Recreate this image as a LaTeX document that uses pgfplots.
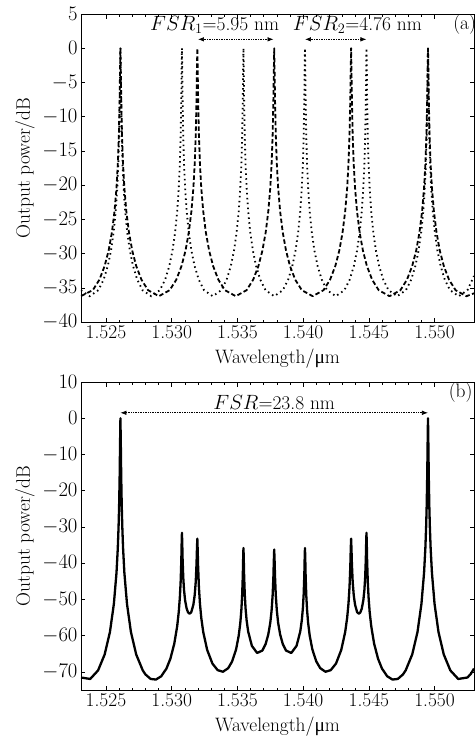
\documentclass[border=0pt]{standalone}
\usepackage{fontspec}
\usepackage{pgfplots}
\pgfplotsset{compat=1.18}
\usetikzlibrary{arrows.meta}
\newfontfamily\gr{Liberation Serif}
\newcommand\fs{\fontsize{19.5}{22}\selectfont}

\tikzset{
  fsr/.style={densely dotted, line width=0.7bp, {Latex[length=6bp,width=4.5bp]}-{Latex[length=6bp,width=4.5bp]}},
}
\pgfplotsset{
  panel/.style={
    scale only axis, width=393bp, height=308bp,
    xmin=1.5231, xmax=1.5530,
    xtick={1.525,1.53,1.535,1.54,1.545,1.55},
    xticklabels={1.525,1.530,1.535,1.540,1.545,1.550},
    minor x tick num=4,
    tick align=inside,
    major tick length=4.5bp, minor tick length=2.5bp,
    every tick/.style={black, line width=0.5bp},
    axis line style={line width=0.6bp},
    tick label style={font=\fs},
    label style={font=\fs},
    xlabel={Wavelength/{\gr μ}m},
    ylabel={Output power/dB},
    xlabel style={at={(axis description cs:0.5,-0.118)}, anchor=center},
    ylabel style={at={(axis description cs:-0.1425,0.5)}, anchor=center},
  },
}

\begin{document}
\begin{tikzpicture}
% (a) the two single rings
\begin{axis}[panel, name=top, at={(0,0)}, anchor=north west,
    ymin=-40, ymax=5, ytick={5,0,-5,...,-40}]
  % ring 1, FSR about 5.85 nm
  \addplot[black, line width=1.8bp, dash pattern=on 4.5bp off 2.5bp, line join=round] coordinates {
    (1.52310,-36.20)
    (1.52400,-35.35) (1.52450,-33.82) (1.52490,-31.81) (1.52520,-29.58) (1.52545,-26.92) (1.52565,-23.83)
    (1.52580,-20.41) (1.52590,-16.95) (1.52598,-12.66) (1.52604,-7.29) (1.52607,-3.20) (1.52610,0)
    (1.52613,-3.20) (1.52616,-7.29) (1.52622,-12.66) (1.52630,-16.95) (1.52640,-20.41) (1.52655,-23.83)
    (1.52675,-26.92) (1.52700,-29.58) (1.52730,-31.81) (1.52770,-33.82) (1.52820,-35.35) (1.529025,-36.23)
    (1.52985,-35.35) (1.53035,-33.82) (1.53075,-31.81) (1.53105,-29.58) (1.53130,-26.92) (1.53150,-23.83)
    (1.53165,-20.41) (1.53175,-16.95) (1.53183,-12.66) (1.53189,-7.29) (1.53192,-3.20) (1.53195,0)
    (1.53198,-3.20) (1.53201,-7.29) (1.53207,-12.66) (1.53215,-16.95) (1.53225,-20.41) (1.53240,-23.83)
    (1.53260,-26.92) (1.53285,-29.58) (1.53315,-31.81) (1.53355,-33.82) (1.53405,-35.35) (1.534875,-36.23)
    (1.53570,-35.35) (1.53620,-33.82) (1.53660,-31.81) (1.53690,-29.58) (1.53715,-26.92) (1.53735,-23.83)
    (1.53750,-20.41) (1.53760,-16.95) (1.53768,-12.66) (1.53774,-7.29) (1.53777,-3.20) (1.53780,0)
    (1.53783,-3.20) (1.53786,-7.29) (1.53792,-12.66) (1.53800,-16.95) (1.53810,-20.41) (1.53825,-23.83)
    (1.53845,-26.92) (1.53870,-29.58) (1.53900,-31.81) (1.53940,-33.82) (1.53990,-35.35) (1.540725,-36.23)
    (1.54155,-35.35) (1.54205,-33.82) (1.54245,-31.81) (1.54275,-29.58) (1.54300,-26.92) (1.54320,-23.83)
    (1.54335,-20.41) (1.54345,-16.95) (1.54353,-12.66) (1.54359,-7.29) (1.54362,-3.20) (1.54365,0)
    (1.54368,-3.20) (1.54371,-7.29) (1.54377,-12.66) (1.54385,-16.95) (1.54395,-20.41) (1.54410,-23.83)
    (1.54430,-26.92) (1.54455,-29.58) (1.54485,-31.81) (1.54525,-33.82) (1.54575,-35.35) (1.546575,-36.23)
    (1.54740,-35.35) (1.54790,-33.82) (1.54830,-31.81) (1.54860,-29.58) (1.54885,-26.92) (1.54905,-23.83)
    (1.54920,-20.41) (1.54930,-16.95) (1.54938,-12.66) (1.54944,-7.29) (1.54947,-3.20) (1.54950,0)
    (1.54953,-3.20) (1.54956,-7.29) (1.54962,-12.66) (1.54970,-16.95) (1.54980,-20.41) (1.54995,-23.83)
    (1.55015,-26.92) (1.55040,-29.58) (1.55070,-31.81) (1.55110,-33.82) (1.55160,-35.35) (1.552425,-36.23)
    (1.55300,-35.81)
  };
  % ring 2, FSR about 4.68 nm
  \addplot[black, line width=1.8bp, dash pattern=on 1.5bp off 3.4bp] coordinates {
    (1.52310,-35.35) (1.52376,-36.23)
    (1.52442,-35.35) (1.52482,-33.82) (1.52514,-31.81) (1.52538,-29.58) (1.52558,-26.92) (1.52574,-23.83)
    (1.52586,-20.41) (1.52594,-16.95) (1.52600,-13.00) (1.52605,-7.58) (1.52608,-2.45) (1.52610,0)
    (1.52612,-2.45) (1.52615,-7.58) (1.52620,-13.00) (1.52626,-16.95) (1.52634,-20.41) (1.52646,-23.83)
    (1.52662,-26.92) (1.52682,-29.58) (1.52706,-31.81) (1.52738,-33.82) (1.52778,-35.35) (1.52844,-36.23)
    (1.52910,-35.35) (1.52950,-33.82) (1.52982,-31.81) (1.53006,-29.58) (1.53026,-26.92) (1.53042,-23.83)
    (1.53054,-20.41) (1.53062,-16.95) (1.53068,-13.00) (1.53073,-7.58) (1.53076,-2.45) (1.53078,0)
    (1.53080,-2.45) (1.53083,-7.58) (1.53088,-13.00) (1.53094,-16.95) (1.53102,-20.41) (1.53114,-23.83)
    (1.53130,-26.92) (1.53150,-29.58) (1.53174,-31.81) (1.53206,-33.82) (1.53246,-35.35) (1.53312,-36.23)
    (1.53378,-35.35) (1.53418,-33.82) (1.53450,-31.81) (1.53474,-29.58) (1.53494,-26.92) (1.53510,-23.83)
    (1.53522,-20.41) (1.53530,-16.95) (1.53536,-13.00) (1.53541,-7.58) (1.53544,-2.45) (1.53546,0)
    (1.53548,-2.45) (1.53551,-7.58) (1.53556,-13.00) (1.53562,-16.95) (1.53570,-20.41) (1.53582,-23.83)
    (1.53598,-26.92) (1.53618,-29.58) (1.53642,-31.81) (1.53674,-33.82) (1.53714,-35.35) (1.53780,-36.23)
    (1.53846,-35.35) (1.53886,-33.82) (1.53918,-31.81) (1.53942,-29.58) (1.53962,-26.92) (1.53978,-23.83)
    (1.53990,-20.41) (1.53998,-16.95) (1.54004,-13.00) (1.54009,-7.58) (1.54012,-2.45) (1.54014,0)
    (1.54016,-2.45) (1.54019,-7.58) (1.54024,-13.00) (1.54030,-16.95) (1.54038,-20.41) (1.54050,-23.83)
    (1.54066,-26.92) (1.54086,-29.58) (1.54110,-31.81) (1.54142,-33.82) (1.54182,-35.35) (1.54248,-36.23)
    (1.54314,-35.35) (1.54354,-33.82) (1.54386,-31.81) (1.54410,-29.58) (1.54430,-26.92) (1.54446,-23.83)
    (1.54458,-20.41) (1.54466,-16.95) (1.54472,-13.00) (1.54477,-7.58) (1.54480,-2.45) (1.54482,0)
    (1.54484,-2.45) (1.54487,-7.58) (1.54492,-13.00) (1.54498,-16.95) (1.54506,-20.41) (1.54518,-23.83)
    (1.54534,-26.92) (1.54554,-29.58) (1.54578,-31.81) (1.54610,-33.82) (1.54650,-35.35) (1.54716,-36.23)
    (1.54782,-35.35) (1.54822,-33.82) (1.54854,-31.81) (1.54878,-29.58) (1.54898,-26.92) (1.54914,-23.83)
    (1.54926,-20.41) (1.54934,-16.95) (1.54940,-13.00) (1.54945,-7.58) (1.54948,-2.45) (1.54950,0)
    (1.54952,-2.45) (1.54955,-7.58) (1.54960,-13.00) (1.54966,-16.95) (1.54974,-20.41) (1.54986,-23.83)
    (1.55002,-26.92) (1.55022,-29.58) (1.55046,-31.81) (1.55078,-33.82) (1.55118,-35.35) (1.55184,-36.23)
    (1.55250,-35.35) (1.55300,-33.28)
  };
  \draw[fsr] (axis cs:1.53200,1.3) -- (axis cs:1.53775,1.3);
  \draw[fsr] (axis cs:1.54014,1.3) -- (axis cs:1.54482,1.3);
  \node[font=\fs] at (axis cs:1.53327,3.4) {$FSR_1$=5.95 nm};
  \node[font=\fs] at (axis cs:1.54413,3.4) {$FSR_2$=4.76 nm};
  \node[font=\fs] at (axis cs:1.55229,3.4) {(a)};
\end{axis}

% (b) the two rings in series
\begin{axis}[panel, name=bot, at={(0,-368bp)}, anchor=north west,
    ymin=-75, ymax=10, ytick={10,0,-10,...,-70}]
  \addplot[black, line width=2.3bp, line join=round] coordinates {
    (1.52310,-71.55) (1.52380,-71.95) (1.52440,-69.59) (1.52490,-65.19) (1.52530,-59.02) (1.52560,-51.27)
    (1.52580,-42.67) (1.52590,-35.80) (1.52596,-29.74) (1.52600,-24.18) (1.52604,-16.22) (1.52607,-7.52)
    (1.52610,0) (1.52613,-7.52) (1.52616,-16.22) (1.52620,-24.18) (1.52624,-29.74) (1.52630,-35.80)
    (1.52640,-42.67) (1.52660,-51.27) (1.52690,-59.02) (1.52730,-65.19) (1.52780,-69.59) (1.52800,-70.69)
    (1.52840,-71.95) (1.52880,-72.11) (1.52920,-71.22) (1.52960,-69.09) (1.52990,-66.38) (1.53020,-62.18)
    (1.53042,-57.34) (1.53054,-53.36) (1.53062,-49.49) (1.53068,-45.22) (1.53073,-39.50) (1.53076,-34.19)
    (1.53078,-31.62) (1.53080,-33.93) (1.53083,-38.86) (1.53088,-43.93) (1.53094,-47.43) (1.53102,-50.25)
    (1.53114,-52.56) (1.53125,-53.61) (1.53136,-53.93) (1.53147,-53.61) (1.53150,-53.41) (1.53165,-51.45)
    (1.53175,-48.84) (1.53183,-45.11) (1.53189,-40.13) (1.53192,-36.23) (1.53195,-33.22) (1.53198,-36.58)
    (1.53201,-40.84) (1.53207,-46.53) (1.53215,-51.19) (1.53225,-55.06) (1.53240,-59.00) (1.53270,-63.94)
    (1.53310,-67.71) (1.53350,-69.52) (1.53390,-69.96) (1.53430,-68.97) (1.53460,-67.10) (1.53490,-63.77)
    (1.53510,-59.99) (1.53522,-56.49) (1.53530,-52.93) (1.53536,-48.91) (1.53541,-43.44) (1.53544,-38.27)
    (1.53546,-35.80) (1.53548,-38.22) (1.53551,-43.30) (1.53556,-48.63) (1.53562,-52.47) (1.53570,-55.76)
    (1.53582,-58.88) (1.53610,-62.81) (1.53650,-64.78) (1.53690,-64.11) (1.53715,-62.29) (1.53735,-59.65)
    (1.53750,-56.47) (1.53760,-53.10) (1.53768,-48.85) (1.53774,-43.51) (1.53777,-39.43) (1.53780,-36.23)
    (1.53783,-39.43) (1.53786,-43.51) (1.53792,-48.85) (1.53800,-53.10) (1.53810,-56.47) (1.53825,-59.65)
    (1.53845,-62.29) (1.53870,-64.11) (1.53910,-64.78) (1.53950,-62.81) (1.53978,-58.88) (1.53990,-55.76)
    (1.53998,-52.47) (1.54004,-48.63) (1.54009,-43.30) (1.54012,-38.22) (1.54014,-35.80) (1.54016,-38.27)
    (1.54019,-43.44) (1.54024,-48.91) (1.54030,-52.93) (1.54038,-56.49) (1.54050,-59.99) (1.54070,-63.77)
    (1.54100,-67.10) (1.54130,-68.97) (1.54170,-69.96) (1.54210,-69.52) (1.54250,-67.71) (1.54290,-63.94)
    (1.54320,-59.00) (1.54335,-55.06) (1.54345,-51.19) (1.54353,-46.53) (1.54359,-40.84) (1.54362,-36.58)
    (1.54365,-33.22) (1.54368,-36.23) (1.54371,-40.13) (1.54377,-45.11) (1.54385,-48.84) (1.54395,-51.45)
    (1.54410,-53.41) (1.54413,-53.61) (1.54424,-53.93) (1.54435,-53.61) (1.54446,-52.56) (1.54458,-50.25)
    (1.54466,-47.43) (1.54472,-43.93) (1.54477,-38.86) (1.54480,-33.93) (1.54482,-31.62) (1.54484,-34.19)
    (1.54487,-39.50) (1.54492,-45.22) (1.54498,-49.49) (1.54506,-53.36) (1.54518,-57.34) (1.54540,-62.18)
    (1.54570,-66.38) (1.54600,-69.09) (1.54640,-71.22) (1.54680,-72.11) (1.54720,-71.95) (1.54760,-70.69)
    (1.54780,-69.59) (1.54830,-65.19) (1.54870,-59.02) (1.54900,-51.27) (1.54920,-42.67) (1.54930,-35.80)
    (1.54936,-29.74) (1.54940,-24.18) (1.54944,-16.22) (1.54947,-7.52) (1.54950,0) (1.54953,-7.52)
    (1.54956,-16.22) (1.54960,-24.18) (1.54964,-29.74) (1.54970,-35.80) (1.54980,-42.67) (1.55000,-51.27)
    (1.55030,-59.02) (1.55070,-65.19) (1.55120,-69.59) (1.55180,-71.95) (1.55250,-71.55) (1.55275,-70.59)
    (1.55300,-69.09)
  };
  \draw[fsr] (axis cs:1.52610,1.5) -- (axis cs:1.54950,1.5);
  \node[font=\fs] at (axis cs:1.53780,4.3) {$FSR$=23.8 nm};
  \node[font=\fs] at (axis cs:1.55198,7) {(b)};
\end{axis}

\pgfresetboundingbox
\path ([xshift=-81bp,yshift=14bp]top.north west) rectangle ([xshift=1bp,yshift=-47bp]bot.south east);
\end{tikzpicture}
\end{document}
